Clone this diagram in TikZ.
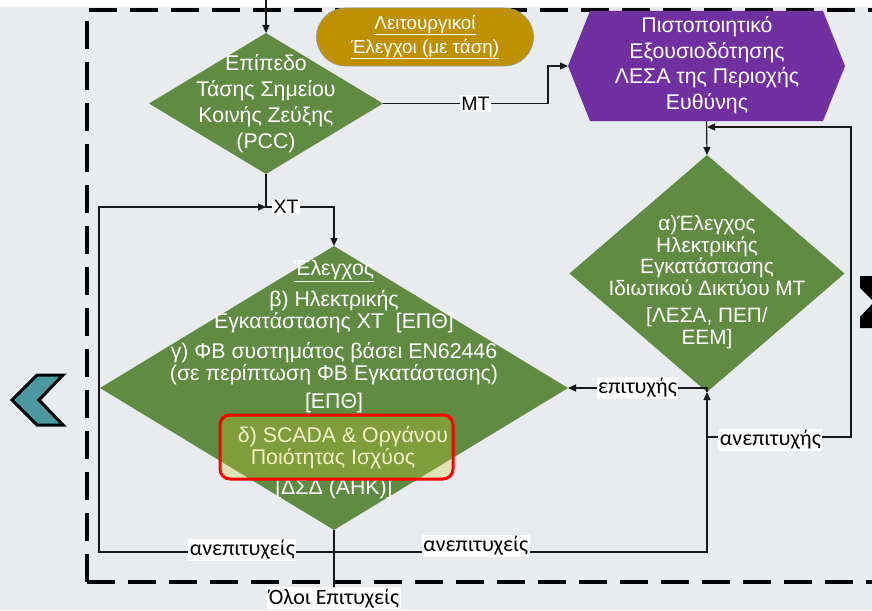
\documentclass[tikz,border=0pt]{standalone}
\usepackage{fontspec}
\setmainfont{Liberation Sans}
\newfontfamily\lblfont{Carlito}
\usetikzlibrary{arrows.meta,shapes.geometric,shapes.misc}
\definecolor{bgc}{RGB}{233,236,239}
\definecolor{grn}{RGB}{97,139,66}
\definecolor{purp}{RGB}{112,48,160}
\definecolor{gold}{RGB}{191,144,0}
\definecolor{tealc}{RGB}{75,152,160}
\definecolor{ovl}{RGB}{206,206,46}
\definecolor{lnc}{RGB}{25,25,25}
\begin{document}
\begin{tikzpicture}[x=1pt,y=-1pt,
  ln/.style={draw=lnc, line width=1.2pt},
  arr/.style={ln, -{Triangle[length=8pt,width=7pt]}},
  dia/.style={diamond, fill=grn, inner sep=0pt, outer sep=0pt},
  wt/.style={text=white, align=center, inner sep=0pt, font=\fontsize{21.3}{22}\selectfont},
  lbl/.style={fill=white, inner sep=1.5pt, text=black, font=\lblfont\fontsize{22}{24}\selectfont},
  lbla/.style={fill=white, inner sep=1.5pt, text=black, font=\fontsize{19.5}{22}\selectfont},
  frame/.style={draw=black, line width=4pt, dash pattern=on 28pt off 13pt}
]
\fill[bgc] (0,0) rectangle (872,610);
\useasboundingbox (0,0) rectangle (872,610);
\fill[white] (0,0) rectangle (872,7);

% dashed frame
\draw[frame] (87,582) -- (87,10) -- (900,10);
\draw[frame] (87,582) -- (900,582);

% chevrons
\draw[fill=tealc, draw=black, line width=3pt, line join=miter]
  (12,400) -- (37,375) -- (63,375) -- (39,400) -- (63,425) -- (37,425) -- cycle;
\fill[black] (860,276) -- (900,276) -- (926,302) -- (900,328) -- (860,328)
  -- (860,317) -- (874,302) -- (860,288) -- cycle;

% shapes
\node[dia, minimum width=234pt, minimum height=141pt] (d1) at (266,103.5) {};
\node[dia, minimum width=275pt, minimum height=237pt] (d2) at (707,273.5) {};
\node[dia, minimum width=468pt, minimum height=284pt] (d3) at (334,388) {};
\node[minimum width=277pt, minimum height=110pt, inner sep=0pt, outer sep=0pt] (hex) at (706.5,66) {};
\fill[purp] (hex.west) -- ([xshift=22pt]hex.north west) -- ([xshift=-22pt]hex.north east)
  -- (hex.east) -- ([xshift=-22pt]hex.south east) -- ([xshift=22pt]hex.south west) -- cycle;
\node[rounded rectangle, fill=gold, draw=gray!80, line width=0.6pt, minimum width=217pt,
  minimum height=58pt, inner sep=0pt, text=white, align=center,
  font=\fontsize{18.8}{24}\selectfont] (gold) at (425,37)
  {\underline{Λειτουργικοί}\\\underline{Έλεγχοι (με τάση)}};

% texts
\node[wt, font=\fontsize{21.3}{26}\selectfont] (d1t) at (266,104) {Επίπεδο\\Τάσης Σημείου\\Κοινής Ζεύξης\\(PCC)};
\node[wt, font=\fontsize{21.3}{25.5}\selectfont] (hext) at (707,65) {Πιστοποιητικό\\Εξουσιοδότησης\\ΛΕΣΑ της Περιοχής\\Ευθύνης};
\node[wt, font=\fontsize{20.8}{21.5}\selectfont] (d2t) at (707,282) {α)Έλεγχος\\Ηλεκτρικής\\Εγκατάστασης\\Ιδιωτικού Δικτύου ΜΤ\\[6pt]{[}ΛΕΣΑ, ΠΕΠ/\\ΕΕΜ]};
\node[wt] (t1) at (334,271) {\underline{Έλεγχος}};
\node[wt] (t2) at (334,312) {β) Ηλεκτρικής\\Εγκατάστασης ΧΤ\ \ {[}ΕΠΘ]};
\node[wt] (t3) at (334,364) {γ) ΦΒ συστημάτος βάσει EN62446\\(σε περίπτωση ΦΒ Εγκατάστασης)};
\node[wt] (t4) at (334,403) {[ΕΠΘ]};
\node[wt] (t5) at (343,437) {δ) SCADA \& Οργάνου};
\node[wt] (t6) at (333,459) {Ποιότητας Ισχύος};
\node[wt] (t7) at (334,489) {[ΔΣΔ (ΑΗΚ)]};
\node[draw=red, line width=3pt, rounded corners=10pt, fill=ovl, fill opacity=0.28, draw opacity=1,
  minimum width=233pt, minimum height=64pt, inner sep=0pt] (hl) at (336.5,447) {};

% connectors
\coordinate (top) at (266,0);
\draw[arr] (top) -- (d1.north);
\coordinate (mtc) at (548,103.5);
\draw[arr] (d1.east) -- node[lbla, pos=0.56]{ΜΤ} (mtc) |- (hex.west);
\draw[arr] (hex.south) -- (d2.north);

\node[lbla] (xt) at (286,207) {ΧΤ};
\draw[ln] (d1.south) |- (xt.west);
\draw[arr] (xt.east) -| (d3.north);

\coordinate (j) at (334,552);
\coordinate (bl) at (99,552);
\coordinate (br) at (707,552);
\draw[ln] (d3.south) -- (j);
\draw[arr] (j) -- node[lbl, pos=0.39, yshift=2pt]{ανεπιτυχείς} (bl) |- (d1.south |- xt.west);
\draw[arr] (j) -- node[lbl, pos=0.38, yshift=6pt]{ανεπιτυχείς} (br) -- (d2.south);
\draw[arr] (d2.south) |- node[lbl, pos=0.75]{επιτυχής} (d3.east);

\coordinate (an1) at (707,437);
\coordinate (rt) at (851,437);
\coordinate (rtop) at (851,127);
\coordinate (cin) at (707,127);
\draw[arr] (an1) -- node[lbl, pos=0.44, yshift=-3pt]{ανεπιτυχής} (rt) -- (rtop) -- (cin);

\node[lbl, anchor=north] (ok) at (334,587) {Όλοι Επιτυχείς};
\draw[ln] (j) -- (ok.north);
\end{tikzpicture}
\end{document}
